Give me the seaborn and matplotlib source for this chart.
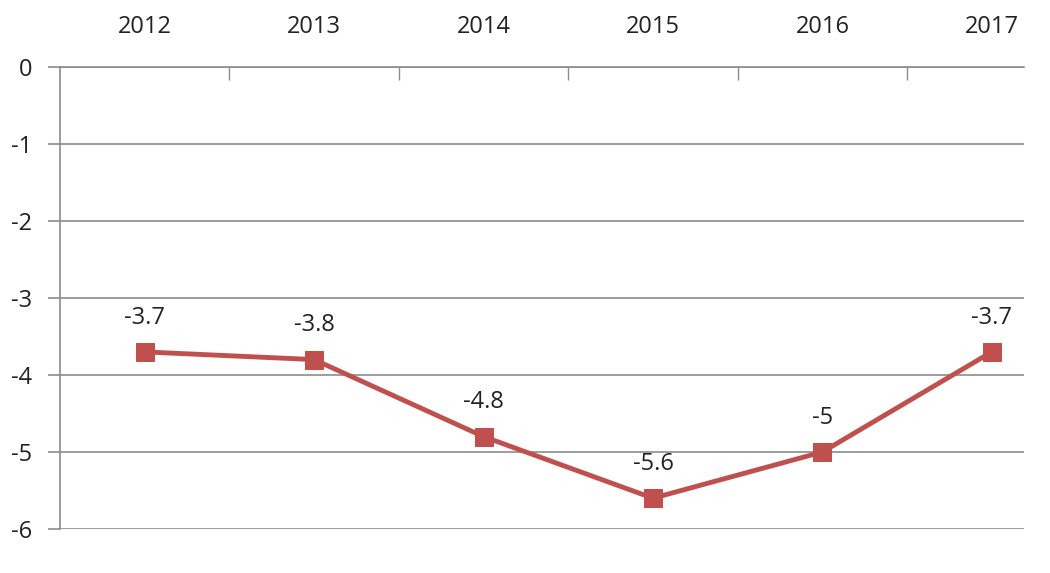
import matplotlib
matplotlib.use("Agg")
import matplotlib.pyplot as plt
import seaborn as sns
import pandas as pd
import numpy as np

years = ["2012", "2013", "2014", "2015", "2016", "2017"]
values = [-3.7, -3.8, -4.8, -5.6, -5.0, -3.7]
value_labels = ["-3.7", "-3.8", "-4.8", "-5.6", "-5", "-3.7"]
y_ticks = [0, -1, -2, -3, -4, -5, -6]

sns.set_theme(style="white")
plt.rcParams['font.family'] = ['Open Sans', 'DejaVu Sans']

df = pd.DataFrame({"x": np.arange(len(years)), "y": values})

fig = plt.figure(figsize=(10.5, 5.73), dpi=100)
ax = fig.add_axes([60/1050, 1-529/573, (1024-60)/1050, (529-67)/573])

color = "#C0504D"
sns.lineplot(data=df, x="x", y="y", ax=ax, color=color, linewidth=3.5,
             marker="s", markersize=13, markeredgecolor=color, markerfacecolor=color)

for xi, yi, lab in zip(df["x"], df["y"], value_labels):
    ax.annotate(lab, (xi, yi), xytext=(0, 16), textcoords="offset points",
                ha="center", va="bottom", fontsize=17, color="#222222")

ax.set_xlim(-0.5, 5.19)
ax.set_ylim(-6, 0)
ax.set_yticks(y_ticks)
ax.set_yticklabels([str(t) for t in y_ticks])
ax.yaxis.grid(True, color="#8c8c8c", linewidth=1.2)
ax.set_axisbelow(True)

ax.xaxis.tick_top()
ax.set_xticks(np.arange(len(years)))
ax.set_xticklabels(years)
ax.set_xticks(np.arange(len(years) - 1) + 0.5, minor=True)
ax.tick_params(axis="x", which="major", length=0, pad=20, labelsize=17, colors="#222222")
ax.tick_params(axis="x", which="minor", top=True, bottom=False, direction="in", length=9,
               width=1, color="#8c8c8c")
ax.tick_params(axis="y", which="major", left=True, direction="out", length=9, width=1.2,
               color="#8c8c8c", pad=11, labelsize=17, labelcolor="#222222")

for s in ["right", "bottom"]:
    ax.spines[s].set_visible(False)
ax.spines["left"].set_color("#8c8c8c")
ax.spines["left"].set_linewidth(1.2)
ax.spines["top"].set_color("#8c8c8c")
ax.spines["top"].set_linewidth(1.2)

ax.set_xlabel("")
ax.set_ylabel("")

fig.savefig("out.png", dpi=100, facecolor="white")
